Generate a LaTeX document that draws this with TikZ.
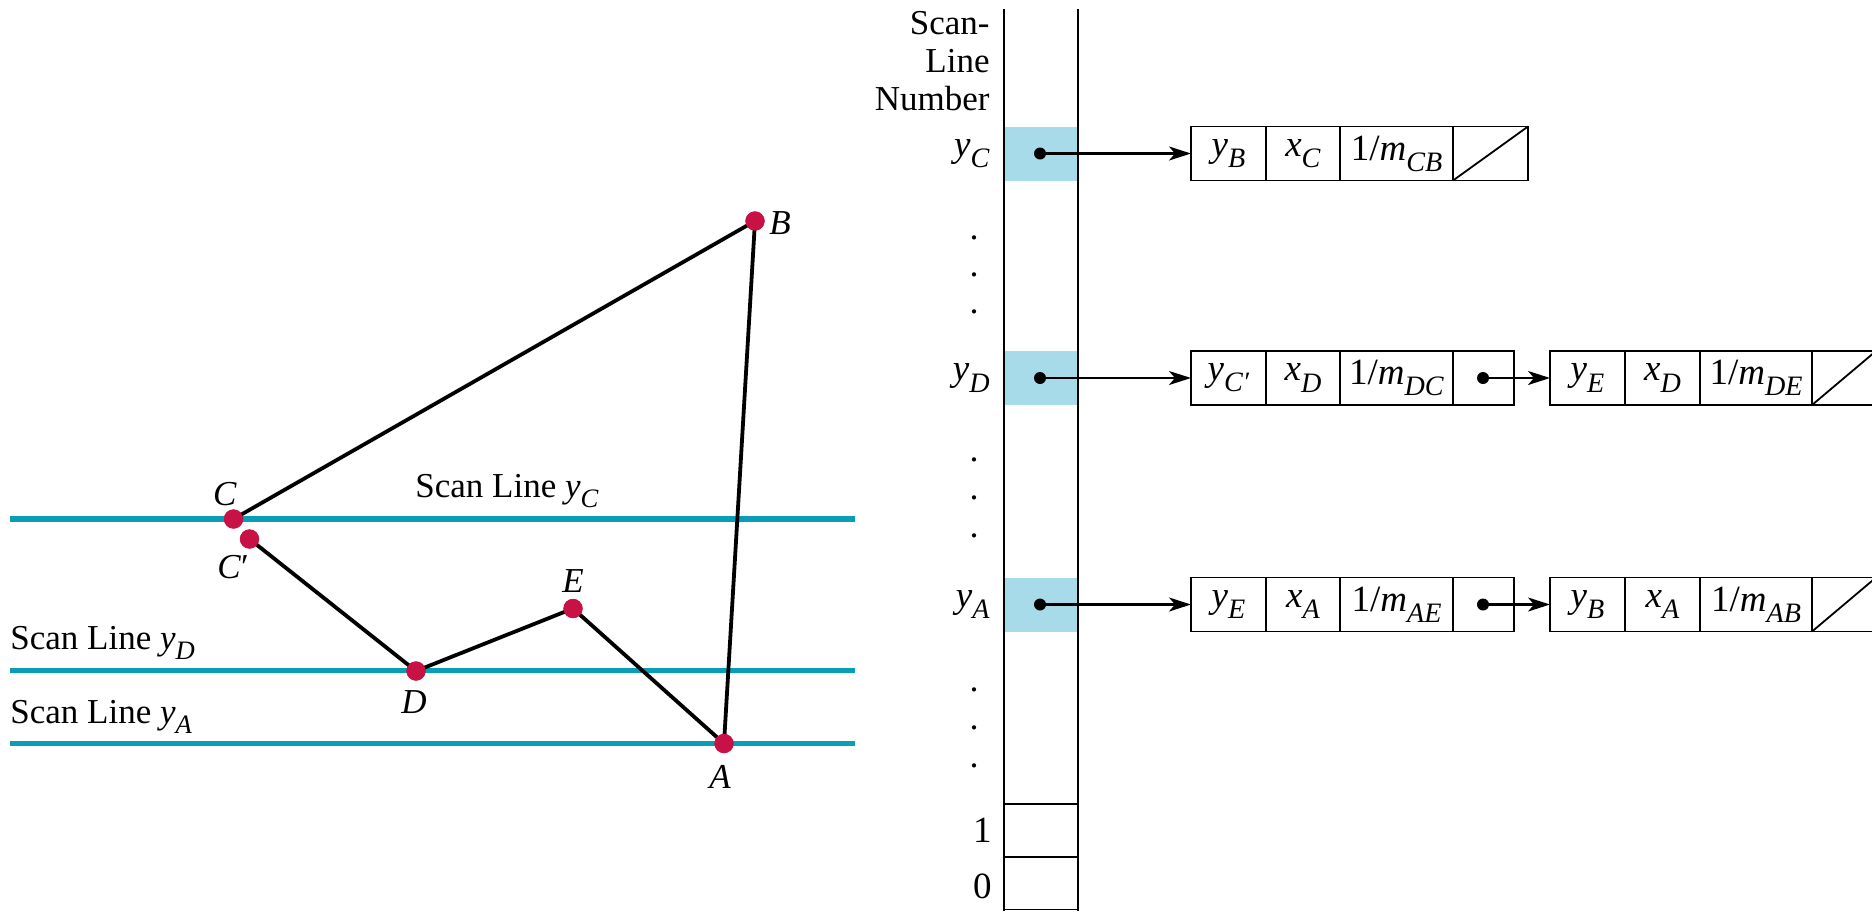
\documentclass[tikz,border=0pt]{standalone}
\usepackage{fontspec}
\setmainfont{Liberation Serif}
\usepackage{graphicx}
\usetikzlibrary{arrows.meta}
\definecolor{ptred}{RGB}{200,18,70}
\definecolor{scanteal}{RGB}{10,157,182}
\definecolor{cellblue}{RGB}{168,219,234}
\newcommand{\vsub}[2]{\textit{#1}\raisebox{-0.3em}{\scalebox{0.76}{\textit{#2}}}}
\begin{document}
\begin{tikzpicture}[x=0.5pt,y=-0.5pt,
  lbl/.style={font=\fontsize{17.5}{20}\selectfont, inner sep=0pt},
  boxtxt/.style={font=\fontsize{18.5}{21}\selectfont},
  edge/.style={line width=1.9pt, black},
  scan/.style={line width=2.6pt, scanteal},
  pt/.style={circle, fill=ptred, inner sep=0pt, minimum size=9.6pt},
  cell/.style={draw, line width=0.9pt, minimum height=27pt, inner sep=0pt, outer sep=0pt, boxtxt},
  slot/.style={fill=cellblue, minimum width=37pt, minimum height=27pt, inner sep=0pt, outer sep=0pt},
  bottomcell/.style={draw, line width=0.8pt, minimum width=37pt, minimum height=26.5pt, inner sep=0pt, outer sep=0pt},
  ptr/.style={circle, fill=black, inner sep=0pt, minimum size=6pt},
  link/.style={line width=1.1pt, -{Stealth[length=11pt,width=7pt,inset=3pt]}},
  col/.style={line width=0.8pt},
  vdot/.style={font=\fontsize{18}{21}\selectfont, inner sep=0pt, anchor=base}
]
\useasboundingbox (0,0) rectangle (1872,911);

% ---------- left: polygon and scan lines ----------
\coordinate (sC1) at (10,519);   \coordinate (sC2) at (855,519);
\coordinate (sD1) at (10,670.5); \coordinate (sD2) at (855,670.5);
\coordinate (sA1) at (10,743.5); \coordinate (sA2) at (855,743.5);
\draw[scan] (sC1) -- (sC2);
\draw[scan] (sD1) -- (sD2);
\draw[scan] (sA1) -- (sA2);

\node[pt] (B) at (755,221) {};
\node[pt] (C) at (233.5,519) {};
\node[pt] (Cp) at (249.5,539) {};
\node[pt] (D) at (416,671) {};
\node[pt] (E) at (573,608.5) {};
\node[pt] (A) at (724,743.5) {};

\draw[edge] (C.center) -- (B.center);
\draw[edge] (B.center) -- (A.center);
\draw[edge] (A.center) -- (E.center);
\draw[edge] (E.center) -- (D.center);
\draw[edge] (D.center) -- (Cp.center);
\foreach \p in {B,C,Cp,D,E,A} {\node[pt] at (\p) {};}

\node[lbl] (lB) at (780,223) {\textit{B}};
\node[lbl] (lC) at (225,494) {\textit{C}};
\node[lbl] (lCp) at (233,567) {\textit{C}′};
\node[lbl] (lE) at (573,581) {\textit{E}};
\node[lbl] (lD) at (414,702) {\textit{D}};
\node[lbl] (lA) at (720,777) {\textit{A}};

\node[lbl, anchor=base west] (tC) at (415,497) {Scan Line \vsub{y}{C}};
\node[lbl, anchor=base west] (tD) at (10,649) {Scan Line \vsub{y}{D}};
\node[lbl, anchor=base west] (tA) at (10,723) {Scan Line \vsub{y}{A}};

% ---------- right: scan-line table ----------
\node[slot] (slotC) at (1041,153.5) {};
\node[slot] (slotD) at (1041,378) {};
\node[slot] (slotA) at (1041,604.5) {};

\coordinate (colL1) at (1004,9); \coordinate (colL2) at (1004,911);
\coordinate (colR1) at (1078,9); \coordinate (colR2) at (1078,911);
\draw[col] (colL1) -- (colL2);
\draw[col] (colR1) -- (colR2);
\node[bottomcell] (row1) at (1041,830.5) {};
\node[bottomcell] (row0) at (1041,883) {};

\node[lbl, anchor=base east] (hd1) at (990,34) {Scan-};
\node[lbl, anchor=base east] (hd2) at (990,72) {Line};
\node[lbl, anchor=base east] (hd3) at (990,110) {Number};

\node[boxtxt, inner sep=0pt, anchor=east] (nC) at (990,153.5) {\vsub{y}{C}};
\node[boxtxt, inner sep=0pt, anchor=east] (nD) at (990,378) {\vsub{y}{D}};
\node[boxtxt, inner sep=0pt, anchor=east] (nA) at (990,604.5) {\vsub{y}{A}};
\node[boxtxt, inner sep=0pt, anchor=east] (n1) at (992,830) {1};
\node[boxtxt, inner sep=0pt, anchor=east] (n0) at (992,886) {0};

\foreach \y [count=\i] in {239,276,313,461,499,537,691,729,767} {
  \node[vdot] (vd\i) at (974,\y) {.};
}

% row y_C
\node[cell, minimum width=37.5pt] (c1) at (1228.5,153.5) {\vsub{y}{B}};
\node[cell, minimum width=37pt]   (c2) at (1303,153.5) {\vsub{x}{C}};
\node[cell, minimum width=56.5pt] (c3) at (1396.5,153.5) {1/\vsub{m}{CB}};
\node[cell, minimum width=37.5pt] (c4) at (1490.5,153.5) {};
\draw[line width=0.9pt] (c4.south west) -- (c4.north east);

% row y_D
\node[cell, minimum width=37.5pt] (d1) at (1228.5,378) {\vsub{y}{C′}};
\node[cell, minimum width=37pt]   (d2) at (1303,378) {\vsub{x}{D}};
\node[cell, minimum width=56.5pt] (d3) at (1396.5,378) {1/\vsub{m}{DC}};
\node[cell, minimum width=30.5pt] (d4) at (1483.5,378) {};
\node[cell, minimum width=37.5pt] (e1) at (1587.5,378) {\vsub{y}{E}};
\node[cell, minimum width=37.5pt] (e2) at (1662.5,378) {\vsub{x}{D}};
\node[cell, minimum width=56pt]   (e3) at (1756,378) {1/\vsub{m}{DE}};
\node[cell, minimum width=32pt]   (e4) at (1844,378) {};
\draw[line width=0.9pt] (e4.south west) -- (e4.north east);

% row y_A
\node[cell, minimum width=37.5pt] (a1) at (1228.5,604.5) {\vsub{y}{E}};
\node[cell, minimum width=37pt]   (a2) at (1303,604.5) {\vsub{x}{A}};
\node[cell, minimum width=56.5pt] (a3) at (1396.5,604.5) {1/\vsub{m}{AE}};
\node[cell, minimum width=30.5pt] (a4) at (1483.5,604.5) {};
\node[cell, minimum width=37.5pt] (f1) at (1587.5,604.5) {\vsub{y}{B}};
\node[cell, minimum width=37.5pt] (f2) at (1662.5,604.5) {\vsub{x}{A}};
\node[cell, minimum width=56pt]   (f3) at (1756,604.5) {1/\vsub{m}{AB}};
\node[cell, minimum width=32pt]   (f4) at (1844,604.5) {};
\draw[line width=0.9pt] (f4.south west) -- (f4.north east);

% pointers
\node[ptr] (pC) at (1040,153.5) {};
\node[ptr] (pD) at (1040,378) {};
\node[ptr] (pA) at (1040,604.5) {};
\node[ptr] (pD4) at (1483,378) {};
\node[ptr] (pA4) at (1483,604.5) {};
\draw[link] (pC.center) -- (c1.west);
\draw[link] (pD.center) -- (d1.west);
\draw[link] (pA.center) -- (a1.west);
\draw[link] (pD4.center) -- (e1.west);
\draw[link] (pA4.center) -- (f1.west);
\end{tikzpicture}
\end{document}
